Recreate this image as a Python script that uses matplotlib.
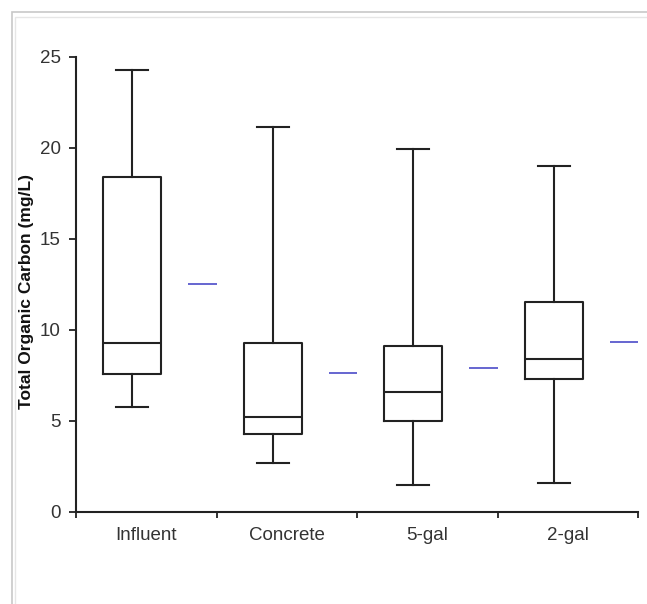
"""Total Organic Carbon box plots by sample source (Excel-style box chart)."""

import matplotlib

matplotlib.use("Agg")

import matplotlib.pyplot as plt
from matplotlib.patches import Rectangle

plt.rcParams.update(
    {
        "font.family": ["Liberation Sans", "DejaVu Sans"],
        "figure.facecolor": "white",
        "axes.facecolor": "white",
    }
)

# ---------------------------------------------------------------------------
# Data (mg/L)
# ---------------------------------------------------------------------------
categories = ["Influent", "Concrete", "5-gal", "2-gal"]
whisker_low = [5.75, 2.7, 1.5, 1.6]
q1 = [7.55, 4.3, 5.0, 7.3]
median = [9.25, 5.2, 6.6, 8.4]
q3 = [18.4, 9.25, 9.1, 11.55]
whisker_high = [24.25, 21.15, 19.9, 19.0]
mean = [12.5, 7.65, 7.9, 9.35]

line_col = "#222222"
mean_col = "#4b4bc8"

fig = plt.figure(figsize=(6.47, 6.04), dpi=100)

# light frame around the chart area (cut off at right / bottom like the source)
fig.patches.append(
    Rectangle((12 / 647, -0.05), 1.1, 1 - 12 / 604 + 0.05,
              transform=fig.transFigure, fill=False,
              edgecolor="#c8c8c8", linewidth=1.2)
)
fig.patches.append(
    Rectangle((15 / 647, -0.05), 1.1, 1 - 17 / 604 + 0.05,
              transform=fig.transFigure, fill=False,
              edgecolor="#e6e6e6", linewidth=1.0)
)

ax = fig.add_axes([76 / 647, 1 - 512 / 604, 562 / 647, (512 - 56.5) / 604])

positions = [i + 1 for i in range(len(categories))]
stats = [
    {"whislo": lo, "q1": a, "med": m, "q3": b, "whishi": hi, "fliers": []}
    for lo, a, m, b, hi in zip(whisker_low, q1, median, q3, whisker_high)
]

props = {"color": line_col, "linewidth": 1.5}
ax.bxp(
    stats,
    positions=[p - 0.1 for p in positions],
    widths=0.41,
    capwidths=0.23,
    showfliers=False,
    boxprops=props,
    whiskerprops=props,
    capprops=props,
    medianprops=props,
    manage_ticks=False,
)

# mean markers: short blue dash to the right of each box
ax.hlines(mean, [p + 0.3 for p in positions], [p + 0.5 for p in positions],
          colors=mean_col, linewidth=1.2)

ax.set_xlim(0.5, len(categories) + 0.5)
ax.set_ylim(0, 25)
ax.set_yticks(range(0, 26, 5))

# category boundaries get the tick marks, category centres get the labels
ax.set_xticks([p - 0.5 for p in positions] + [len(categories) + 0.5])
ax.set_xticklabels([])
ax.set_xticks(positions, minor=True)
ax.set_xticklabels(categories, minor=True)
ax.tick_params(axis="x", which="major", direction="out", length=4,
               width=1.3, color=line_col)
ax.tick_params(axis="x", which="minor", length=0, pad=11,
               labelsize=13.5, labelcolor="#333333")
ax.tick_params(axis="y", direction="out", length=5, width=1.3,
               color=line_col, pad=6, labelsize=13.5, labelcolor="#333333")

for side in ("top", "right"):
    ax.spines[side].set_visible(False)
for side in ("left", "bottom"):
    ax.spines[side].set_color(line_col)
    ax.spines[side].set_linewidth(1.5)

# y label: start of the text sits a little above the 5 tick
fig.text(27 / 647, 1 - 409 / 604, "Total Organic Carbon (mg/L)",
         rotation=90, ha="left", va="center", rotation_mode="anchor",
         fontsize=12.5, fontweight="bold", color="#111111")

fig.savefig("out.png", dpi=100)
plt.close(fig)
